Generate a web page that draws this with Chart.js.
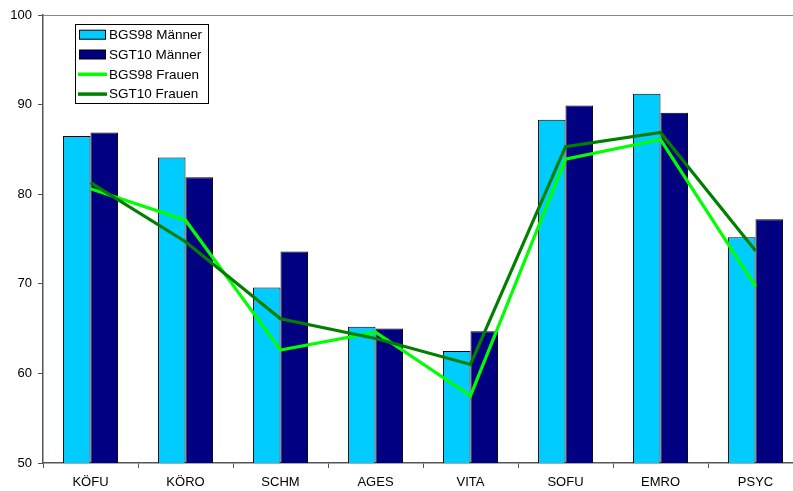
<!DOCTYPE html>
<html>
<head>
<meta charset="utf-8">
<script src="https://cdn.jsdelivr.net/npm/chart.js@4/dist/chart.umd.min.js"></script>
<style>
  html, body { margin: 0; padding: 0; overflow: hidden; background: #fff; }
  #wrap { width: 808px; height: 491px; position: relative; }
</style>
</head>
<body>
<div id="wrap"><canvas id="c"></canvas></div>
<script>
// Skalen-Kategorien
const categories = ['KÖFU', 'KÖRO', 'SCHM', 'AGES', 'VITA', 'SOFU', 'EMRO', 'PSYC'];

// Männer (Säulen)
const bgs98Maenner = [86.5, 84.1, 69.6, 65.2, 62.5, 88.3, 91.2, 75.2];
const sgt10Maenner = [86.9, 81.9, 73.6, 65.0, 64.7, 89.9, 89.1, 77.2];

// Frauen (Linien)
const bgs98Frauen = [80.6, 77.1, 62.6, 64.6, 57.5, 83.9, 86.1, 69.7];
const sgt10Frauen = [81.3, 74.7, 66.1, 63.9, 61.0, 85.3, 86.9, 73.7];

// y-Achse
const yTicks = [50, 60, 70, 80, 90, 100];

const FONT = 'Arial, "Liberation Sans", sans-serif';
const AXIS_COLOR = '#555555';

// Rahmenlinie oben am Diagrammbereich
const topBorder = {
  id: 'topBorder',
  afterDatasetsDraw(chart) {
    const { ctx, chartArea } = chart;
    ctx.save();
    ctx.strokeStyle = '#888888';
    ctx.lineWidth = 1;
    ctx.beginPath();
    ctx.moveTo(chartArea.left, chartArea.top + 0.5);
    ctx.lineTo(chartArea.right, chartArea.top + 0.5);
    ctx.stroke();
    ctx.restore();
  }
};

// Legende im Diagrammbereich mit Rahmen
const boxLegend = {
  id: 'boxLegend',
  afterDraw(chart) {
    const { ctx } = chart;
    const ds = chart.data.datasets;
    const x0 = 75.5, y0 = 24.5, w = 133, h = 79;
    ctx.save();
    ctx.fillStyle = '#ffffff';
    ctx.fillRect(x0, y0, w, h);
    ctx.strokeStyle = '#000000';
    ctx.lineWidth = 1;
    ctx.strokeRect(x0, y0, w, h);
    ctx.font = '13.5px ' + FONT;
    ctx.textBaseline = 'middle';
    ctx.textAlign = 'left';
    ds.forEach((d, i) => {
      const cy = 34.7 + i * 19.8;
      if (d.type === 'line') {
        ctx.strokeStyle = d.borderColor;
        ctx.lineWidth = 3.5;
        ctx.beginPath();
        ctx.moveTo(78, cy);
        ctx.lineTo(107, cy);
        ctx.stroke();
      } else {
        ctx.fillStyle = d.backgroundColor;
        ctx.fillRect(79.5, cy - 4.5, 26, 9);
        ctx.strokeStyle = '#000000';
        ctx.lineWidth = 1;
        ctx.strokeRect(79.5, cy - 4.5, 26, 9);
      }
      ctx.fillStyle = '#000000';
      ctx.fillText(d.label, 109, cy + 0.5);
    });
    ctx.restore();
  }
};

new Chart(document.getElementById('c'), {
  data: {
    labels: categories,
    datasets: [
      {
        type: 'bar', label: 'BGS98 Männer', data: bgs98Maenner,
        backgroundColor: '#00CCFF', borderColor: '#000000', borderWidth: 1,
        borderSkipped: false, order: 2
      },
      {
        type: 'bar', label: 'SGT10 Männer', data: sgt10Maenner,
        backgroundColor: '#000080', borderColor: '#000000', borderWidth: 1,
        borderSkipped: false, order: 2
      },
      {
        type: 'line', label: 'BGS98 Frauen', data: bgs98Frauen,
        borderColor: '#00FF00', backgroundColor: '#00FF00', borderWidth: 3.2,
        pointRadius: 0, tension: 0, borderJoinStyle: 'miter', order: 1
      },
      {
        type: 'line', label: 'SGT10 Frauen', data: sgt10Frauen,
        borderColor: '#008000', backgroundColor: '#008000', borderWidth: 3.2,
        pointRadius: 0, tension: 0, borderJoinStyle: 'miter', order: 0
      }
    ]
  },
  options: {
    responsive: true,
    maintainAspectRatio: false,
    animation: false,
    devicePixelRatio: 1,
    layout: { padding: { top: 15, right: 5, left: 0, bottom: 0 } },
    datasets: {
      bar: { categoryPercentage: 0.58, barPercentage: 1.0 }
    },
    plugins: {
      legend: { display: false },
      tooltip: { enabled: false }
    },
    scales: {
      x: {
        offset: true,
        grid: {
          display: true, drawOnChartArea: false, offset: true,
          tickLength: 5, color: AXIS_COLOR, lineWidth: 1
        },
        border: { display: true, color: AXIS_COLOR, width: 1.5 },
        ticks: {
          color: '#000000', padding: 7,
          font: { family: FONT, size: 13 }
        },
        afterFit(scale) { scale.height = 28; }
      },
      y: {
        min: 50, max: 100,
        afterBuildTicks(scale) { scale.ticks = yTicks.map(v => ({ value: v })); },
        grid: {
          display: true, drawOnChartArea: false,
          tickLength: 5, color: AXIS_COLOR, lineWidth: 1
        },
        border: { display: true, color: AXIS_COLOR, width: 1.5 },
        ticks: {
          color: '#000000', padding: 6,
          font: { family: FONT, size: 13 }
        },
        afterFit(scale) { scale.width = 43; }
      }
    }
  },
  plugins: [topBorder, boxLegend]
});
</script>
</body>
</html>
